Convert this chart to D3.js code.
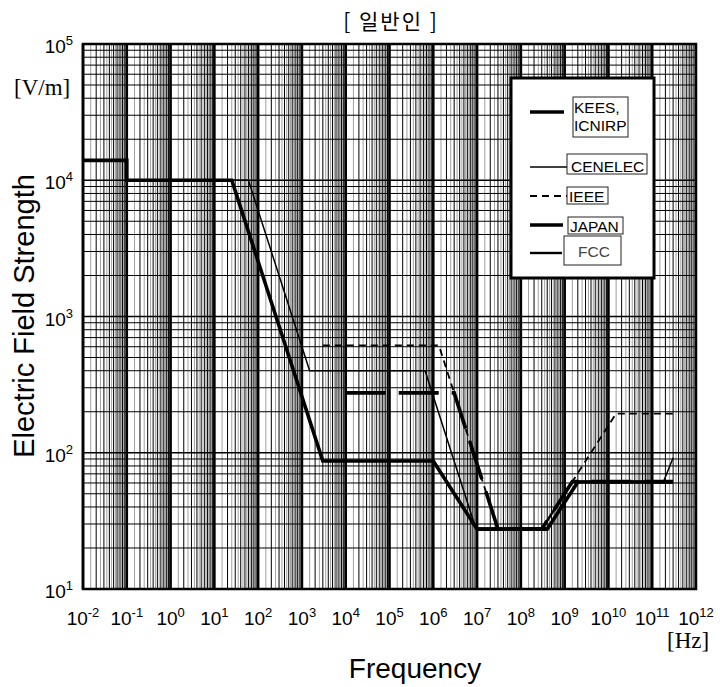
<!DOCTYPE html>
<html>
<head>
<meta charset="utf-8">
<script src="https://cdn.jsdelivr.net/npm/d3@7"></script>
<style>
  body { margin: 0; background: #fff; }
  svg { display: block; font-family: Arial, "Liberation Sans", sans-serif; }
</style>
</head>
<body>
<svg id="chart" width="720" height="687"></svg>
<script>
// exposure limits, general public
const seriesNames = ['KEES,|ICNIRP', 'CENELEC', 'IEEE', 'JAPAN', 'FCC'];

const keesFreq = [0.01, 0.1, 0.1, 25, 3000, 1e6, 1e7, 4e8, 2e9, 3e11];
const keesField = [14000, 14000, 10000, 10000, 87, 87, 27.5, 27.5, 61, 61];

const cenelecFreq = [0.1, 60, 1500, 6.5e5, 9.3e6, 4e8, 2e9, 1.8e11, 3e11];
const cenelecField = [10000, 10000, 400, 400, 28, 28, 61, 61, 92];

const ieeeFreq = [3000, 1.34e6, 3e7, 3e8, 1.5e10, 3e11];
const ieeeField = [614, 614, 27.5, 27.5, 194, 194];

const japanFreq = [1e4, 3e6, 3e7, 3e8, 1.5e9, 3e11];
const japanField = [275, 275, 27.5, 27.5, 61.4, 61.4];

const fccFreq = [3e7, 3e8, 1.5e9, 1e11];
const fccField = [27.5, 27.5, 61.4, 61.4];

const xTickExp = [-2, -1, 0, 1, 2, 3, 4, 5, 6, 7, 8, 9, 10, 11, 12];
const yTickExp = [1, 2, 3, 4, 5];

let plotLeft = 83, plotRight = 696, plotTop = 44, plotBottom = 589;

let svg = d3.select('#chart');

let x = d3.scaleLog().domain([1e-2, 1e12]).range([plotLeft, plotRight]);
let y = d3.scaleLog().domain([10, 1e5]).range([plotBottom, plotTop]);

// grid
let grid = svg.append('g');
for (let e = -2; e < 12; e++) {
  for (let k = 1; k < 10; k += 0.5) {
    let v = k * Math.pow(10, e);
    let whole = k % 1 === 0;
    grid.append('line')
      .attr('x1', x(v)).attr('x2', x(v))
      .attr('y1', plotTop).attr('y2', plotBottom)
      .attr('stroke', whole ? '#000' : '#777')
      .attr('stroke-width', k === 1 ? 2.6 : (whole ? 1 : 0.7));
  }
}
for (let e = 1; e < 5; e++) {
  for (let k = 1; k < 10; k++) {
    let v = k * Math.pow(10, e);
    grid.append('line')
      .attr('x1', plotLeft).attr('x2', plotRight)
      .attr('y1', y(v)).attr('y2', y(v))
      .attr('stroke', '#000')
      .attr('stroke-width', k === 1 ? 1.5 : 1);
  }
}

svg.append('rect')
  .attr('x', plotLeft).attr('y', plotTop)
  .attr('width', plotRight - plotLeft).attr('height', plotBottom - plotTop)
  .attr('fill', 'none').attr('stroke', '#000').attr('stroke-width', 2.5);

// curves
let series = [
  { f: keesFreq, v: keesField, w: 3.6, dash: null },
  { f: cenelecFreq, v: cenelecField, w: 1.5, dash: null },
  { f: ieeeFreq, v: ieeeField, w: 1.8, dash: '7,5' },
  { f: japanFreq, v: japanField, w: 3.6, dash: '40,13' },
  { f: fccFreq, v: fccField, w: 2.4, dash: null }
];

let line = d3.line().x(d => x(d[0])).y(d => y(d[1]));

series.forEach(s => {
  svg.append('path')
    .attr('d', line(s.f.map((f, i) => [f, s.v[i]])))
    .attr('fill', 'none')
    .attr('stroke', '#000')
    .attr('stroke-width', s.w)
    .attr('stroke-dasharray', s.dash);
});

// tick labels
let xLabels = svg.append('g').attr('font-size', 19).attr('text-anchor', 'middle');
xTickExp.forEach(e => {
  let t = xLabels.append('text').attr('x', x(Math.pow(10, e))).attr('y', 625);
  t.append('tspan').text('10');
  t.append('tspan').attr('dy', -8).attr('font-size', 13).text(e);
});

let yLabels = svg.append('g').attr('font-size', 19).attr('text-anchor', 'end');
yTickExp.forEach(e => {
  let t = yLabels.append('text').attr('x', 73).attr('y', y(Math.pow(10, e)) + 9);
  t.append('tspan').text('10');
  t.append('tspan').attr('dy', -8).attr('font-size', 13).text(e);
});

// titles
svg.append('text')
  .attr('x', 391).attr('y', 29)
  .attr('text-anchor', 'middle')
  .attr('font-size', 21)
  .attr('letter-spacing', 2)
  .attr('font-family', '"Noto Sans CJK KR", sans-serif')
  .text('[ 일반인 ]');

svg.append('text')
  .attr('transform', 'translate(34,316) rotate(-90)')
  .attr('text-anchor', 'middle')
  .attr('font-size', 29)
  .text('Electric Field Strength');

svg.append('text')
  .attr('x', 415).attr('y', 678)
  .attr('text-anchor', 'middle')
  .attr('font-size', 28)
  .text('Frequency');

svg.append('text')
  .attr('x', 14).attr('y', 95)
  .attr('font-family', '"Liberation Serif", "Times New Roman", serif')
  .attr('font-size', 23)
  .text('[V/m]');

svg.append('text')
  .attr('x', 667).attr('y', 648)
  .attr('font-family', '"Liberation Serif", "Times New Roman", serif')
  .attr('font-size', 23)
  .text('[Hz]');

// legend
let legend = svg.append('g');
legend.append('rect')
  .attr('x', 511).attr('y', 78)
  .attr('width', 143).attr('height', 200)
  .attr('fill', '#fff').attr('stroke', '#000').attr('stroke-width', 3);

let legendRows = [
  { lineY: 112, x2: 564, box: [573, 97, 55, 40], textY: [113, 131], tx: 574, color: '#000' },
  { lineY: 167, x2: 567, box: [567, 154, 80, 20], textY: [172], tx: 571, color: '#000' },
  { lineY: 196, x2: 567, box: [567, 187, 41, 17], textY: [202], tx: 569, color: '#000' },
  { lineY: 225, x2: 563, box: [568, 217, 55, 17], textY: [232], tx: 570, color: '#000' },
  { lineY: 253, x2: 562, box: [564, 236, 57, 29], textY: [257], tx: 578, color: '#444' }
];

legendRows.forEach((r, i) => {
  let s = series[i];
  legend.append('line')
    .attr('x1', 530).attr('x2', r.x2)
    .attr('y1', r.lineY).attr('y2', r.lineY)
    .attr('stroke', '#000')
    .attr('stroke-width', s.w)
    .attr('stroke-dasharray', s.dash);
  legend.append('rect')
    .attr('x', r.box[0]).attr('y', r.box[1])
    .attr('width', r.box[2]).attr('height', r.box[3])
    .attr('fill', '#fff').attr('stroke', '#222').attr('stroke-width', 1);
  seriesNames[i].split('|').forEach((part, j) => {
    legend.append('text')
      .attr('x', r.tx).attr('y', r.textY[j])
      .attr('font-size', 15.5)
      .attr('fill', r.color)
      .text(part);
  });
});
</script>
</body>
</html>
